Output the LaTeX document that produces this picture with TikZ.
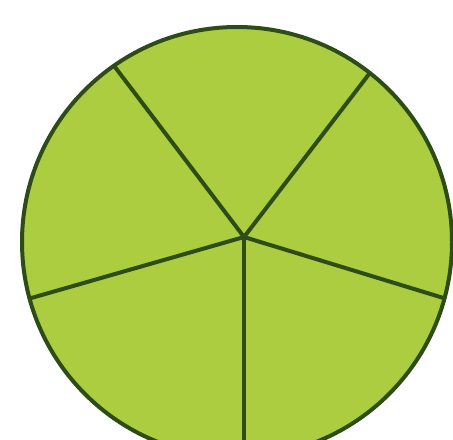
\documentclass[tikz,border=0pt]{standalone}
\usepackage{xcolor}
\usepackage{tikz}
\usetikzlibrary{calc}
\definecolor{lime}{RGB}{172, 205, 64}
\definecolor{rind}{RGB}{46, 76, 22}

\begin{document}
\begin{tikzpicture}[x=0.5pt, y=-0.5pt, line join=round]
  % Frame
  \useasboundingbox (0,0) rectangle (453,439);
  \fill[white] (0,0) rectangle (453,439);

  % Centre of the disc and meeting point of the cuts
  \coordinate (ctr) at (237,242);
  \coordinate (hub) at (244,237);

  \begin{scope}
    \clip (0,0) rectangle (453,439);
    \fill[lime] (ctr) circle (215);
    % Five cuts
    \begin{scope}
      \clip (ctr) circle (215);
      \foreach \a in {90,17,307.5,232.8,164}
        \draw[rind, line width=2pt] (hub) -- ++(\a:320);
    \end{scope}
    \draw[rind, line width=2pt] (ctr) circle (215);
  \end{scope}
\end{tikzpicture}
\end{document}
